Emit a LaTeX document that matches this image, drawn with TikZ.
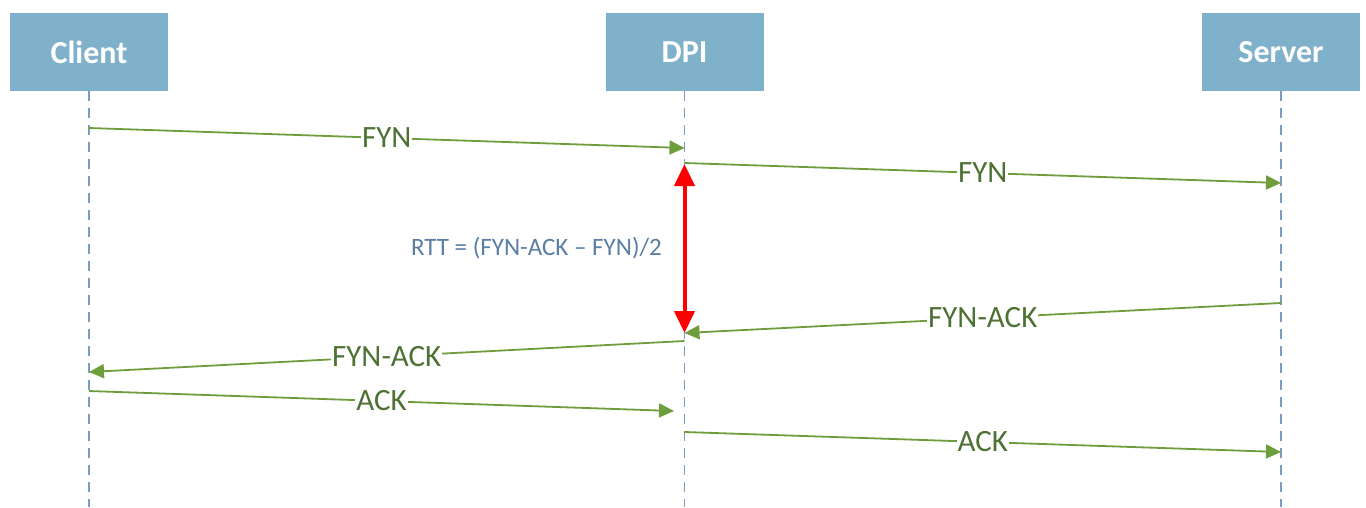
\documentclass[tikz,border=0pt]{standalone}
\usepackage{fontspec}
\setmainfont{Carlito}
\usetikzlibrary{arrows.meta}
\definecolor{boxfill}{HTML}{7FB2CA}
\definecolor{lifeblue}{HTML}{7D9DC0}
\definecolor{msggreen}{HTML}{6E9E3C}
\definecolor{lblgreen}{HTML}{4E7234}
\definecolor{rttblue}{HTML}{5B7EA3}
\tikzset{
  actor/.style={fill=boxfill, draw=none, minimum width=158pt, minimum height=78pt, inner sep=0pt,
    text=white, font=\fontsize{32}{32}\selectfont\bfseries},
  lifeline/.style={draw=lifeblue, line width=1.3pt, dash pattern=on 10pt off 7pt},
  msg/.style={draw=msggreen, line width=1.8pt, -{Triangle[length=15pt,width=14pt]}},
  lbl/.style={fill=white, inner sep=1pt, text=lblgreen, font=\fontsize{31}{31}\selectfont},
  rtt/.style={draw=red, line width=4pt, {Triangle[length=22pt,width=20pt]}-{Triangle[length=22pt,width=20pt]}},
}
\begin{document}
\begin{tikzpicture}[x=1pt,y=-1pt]
\useasboundingbox[fill=white] (0,0) rectangle (1366,507);
% actors
\node[actor] (cl) at (89,52) {Client};
\node[actor] (dp) at (684.5,52) {DPI};
\node[actor] (sv) at (1281,52) {Server};
% lifeline ends
\coordinate (clend) at (89,507);
\coordinate (dpend) at (684.5,507);
\coordinate (svend) at (1281,507);
\draw[lifeline] (cl.south) -- (clend);
\draw[lifeline] (dp.south) -- (dpend);
\draw[lifeline] (sv.south) -- (svend);
% message anchors
\coordinate (c1) at (89,128);   \coordinate (d1) at (684.5,148);
\coordinate (d2) at (684.5,163); \coordinate (s2) at (1281,183);
\coordinate (s3) at (1281,303);  \coordinate (d3) at (684.5,333);
\coordinate (d4) at (684.5,341); \coordinate (c4) at (89,372);
\coordinate (c5) at (89,391);   \coordinate (d5) at (674,411);
\coordinate (d6) at (684.5,432); \coordinate (s6) at (1281,452);
% messages
\draw[msg] (c1) -- node[lbl]{FYN} (d1);
\draw[msg] (d2) -- node[lbl]{FYN} (s2);
\draw[msg] (s3) -- node[lbl]{FYN-ACK} (d3);
\draw[msg] (d4) -- node[lbl]{FYN-ACK} (c4);
\draw[msg] (c5) -- node[lbl]{ACK} (d5);
\draw[msg] (d6) -- node[lbl]{ACK} (s6);
% RTT
\coordinate (rtop) at (684.5,164);
\coordinate (rbot) at (684.5,333);
\draw[rtt] (rtop) -- (rbot);
\node[text=rttblue, font=\fontsize{25}{25}\selectfont, anchor=center] (rttlbl) at (536.5,248) {RTT = (FYN-ACK – FYN)/2};
\end{tikzpicture}
\end{document}
